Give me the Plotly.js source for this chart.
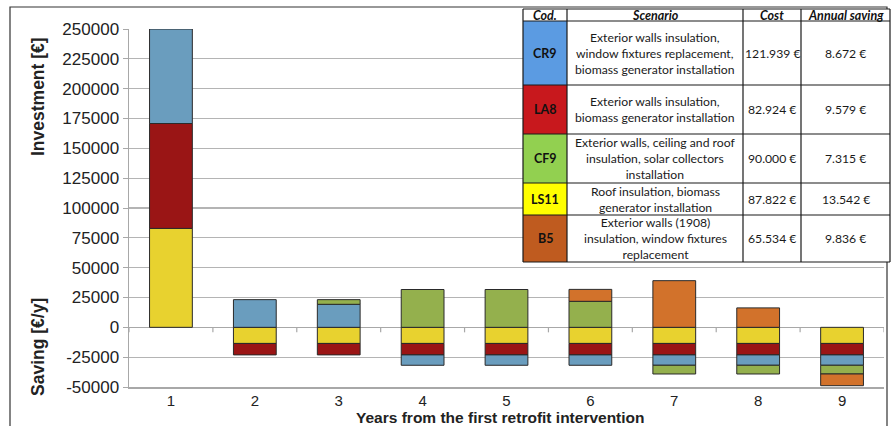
<!DOCTYPE html>
<html><head><meta charset="utf-8">
<script src="https://cdn.plot.ly/plotly-3.0.1.min.js"></script>
<style>html,body{margin:0;padding:0;background:#fff;}#chart{width:891px;height:426px;}</style>
</head><body><div id="chart"></div>
<script>
// ---- data ----
const years = [1, 2, 3, 4, 5, 6, 7, 8, 9];
const seriesNames = ["LS11", "LA8", "CR9", "CF9", "B5"];
const LS11 = [82900, -13500, -13500, -13500, -13500, -13500, -13500, -13500, -13500];
const LA8  = [87900, -9600, -9600, -9600, -9600, -9600, -9600, -9600, -9600];
const CR9  = [79200, 23200, 19300, -8700, -8700, -8700, -8700, -8700, -8700];
const CF9  = [null, null, 3900, 31700, 31700, 21800, -7300, -7300, -7300];
const B5   = [null, null, null, null, null, 10000, 39100, 16300, -9800];
const yTickVals = [-50000, -25000, 0, 25000, 50000, 75000, 100000, 125000, 150000, 175000, 200000, 225000, 250000];
const xTitle = "Years from the first retrofit intervention";

// table content
const tableHeader = ["Cod.", "Scenario", "Cost", "Annual saving"];
const tableCodes = ["CR9", "LA8", "CF9", "LS11", "B5"];
const tableScenarios = [
  "Exterior walls insulation,<br>window fixtures replacement,<br>biomass generator installation",
  "Exterior walls insulation,<br>biomass generator installation",
  "Exterior walls, ceiling and roof<br>insulation, solar collectors<br>installation",
  "Roof insulation, biomass<br>generator installation",
  "Exterior walls (1908)<br>insulation, window fixtures<br>replacement"
];
const tableCosts = ["121.939 €", "82.924 €", "90.000 €", "87.822 €", "65.534 €"];
const tableSavings = ["8.672 €", "9.579 €", "7.315 €", "13.542 €", "9.836 €"];

// ---- styling ----
const barColors = {LS11: "#E8D22F", LA8: "#9A1515", CR9: "#6A9DBE", CF9: "#94B04D", B5: "#D2722B"};
const tableCodeColors = {CR9: "#5B9BE2", LA8: "#C8181D", CF9: "#92D050", LS11: "#FFFF00", B5: "#BF5B1F"};
const seriesData = {LS11, LA8, CR9, CF9, B5};

const W = 891, H = 426;
const M = {l: 129, r: 7, t: 29, b: 39};
const PW = W - M.l - M.r, PH = H - M.t - M.b;
const px = x => (x - M.l) / PW;
const py = y => (H - M.b - y) / PH;

const traces = seriesNames.map(n => ({
  type: "bar", name: n, x: years, y: seriesData[n], width: 0.51,
  marker: {color: barColors[n], line: {color: "#2a2a2a", width: 1}},
  hoverinfo: "skip"
}));

const shapes = [];
const annotations = [];

// small tick marks on the zero line between categories
const bounds = [years[0] - 0.5].concat(years.map(v => v + 0.5));
bounds.forEach(b => shapes.push({type: "line", xref: "x", yref: "y", ysizemode: "pixel", yanchor: 0,
  x0: b, x1: b, y0: 0, y1: -5, line: {color: "#A8A8A8", width: 1.2}, layer: "below"}));

// outer frame
shapes.push({type: "rect", xref: "paper", yref: "paper", x0: px(10), x1: px(887), y0: py(7), y1: py(440),
  line: {color: "#333", width: 1.2}, fillcolor: "rgba(0,0,0,0)"});

// table
const colEdges = [523, 567, 743, 801, 890];
const rowEdges = [9, 21, 85, 134, 183, 215, 262];
shapes.push({type: "rect", xref: "paper", yref: "paper", x0: px(colEdges[0]), x1: px(colEdges[4]),
  y0: py(rowEdges[0]), y1: py(rowEdges[6]), fillcolor: "#fff", line: {width: 0}});
tableCodes.forEach((c, i) => {
  shapes.push({type: "rect", xref: "paper", yref: "paper", x0: px(colEdges[0]), x1: px(colEdges[1]),
    y0: py(rowEdges[i + 1]), y1: py(rowEdges[i + 2]), fillcolor: tableCodeColors[c], line: {width: 0}});
});
rowEdges.forEach(r => shapes.push({type: "line", xref: "paper", yref: "paper", x0: px(colEdges[0]), x1: px(colEdges[4]),
  y0: py(r), y1: py(r), line: {color: "#1a1a1a", width: 1.2}}));
colEdges.forEach(c => shapes.push({type: "line", xref: "paper", yref: "paper", x0: px(c), x1: px(c),
  y0: py(rowEdges[0]), y1: py(rowEdges[6]), line: {color: "#1a1a1a", width: 1.2}}));

const tFont = {family: "Lato, 'Open Sans', sans-serif", size: 12.2, color: "#1a1a1a"};
function cell(text, ci, ri, font) {
  annotations.push({xref: "paper", yref: "paper", showarrow: false,
    x: px((colEdges[ci] + colEdges[ci + 1]) / 2), y: py((rowEdges[ri] + rowEdges[ri + 1]) / 2),
    xanchor: "center", yanchor: "middle", text: text, font: font, align: "center"});
}
tableHeader.forEach((h, ci) => cell("<b><i>" + h + "</i></b>", ci, 0, Object.assign({}, tFont, {size: 12.5, color: "#111"})));
tableCodes.forEach((c, i) => {
  cell("<b>" + c + "</b>", 0, i + 1, Object.assign({}, tFont, {size: 12.5, color: "#111"}));
  cell(tableScenarios[i], 1, i + 1, tFont);
  cell(tableCosts[i], 2, i + 1, tFont);
  cell(tableSavings[i], 3, i + 1, tFont);
});

// axis titles
const axFont = {family: "'Liberation Sans', Arial, sans-serif", size: 17.5, color: "#222"};
annotations.push({xref: "paper", yref: "paper", x: px(38), y: py(97), textangle: -90, showarrow: false,
  text: "<b>Investment [€]</b>", font: axFont, xanchor: "center", yanchor: "middle"});
annotations.push({xref: "paper", yref: "paper", x: px(38), y: py(347), textangle: -90, showarrow: false,
  text: "<b>Saving [€/y]</b>", font: axFont, xanchor: "center", yanchor: "middle"});
annotations.push({xref: "paper", yref: "paper", x: px(500), y: py(417), showarrow: false,
  text: "<b>" + xTitle + "</b>", font: {family: "'Liberation Sans', Arial, sans-serif", size: 15.5, color: "#222"},
  xanchor: "center", yanchor: "middle"});

const layout = {
  width: W, height: H, margin: M, barmode: "relative", showlegend: false,
  paper_bgcolor: "#fff", plot_bgcolor: "#fff",
  font: {family: "'Liberation Sans', Arial, sans-serif", color: "#222"},
  xaxis: {range: [0.5, 9.5], tickvals: years, ticktext: years.map(String), ticks: "", showgrid: false,
    zeroline: false, showline: true, linecolor: "#A8A8A8", linewidth: 1.5,
    tickfont: {size: 15, color: "#222"}, ticklabelstandoff: -1},
  yaxis: {range: [-50000, 250000], tickvals: yTickVals, ticktext: yTickVals.map(String),
    ticks: "outside", ticklen: 5, tickcolor: "#A8A8A8", showgrid: true, gridcolor: "#B4B4B4", gridwidth: 1.2,
    zeroline: true, zerolinecolor: "#A8A8A8", zerolinewidth: 1.5,
    showline: true, linecolor: "#A8A8A8", linewidth: 1.5, tickfont: {size: 17, color: "#222"}},
  shapes: shapes, annotations: annotations
};

Plotly.newPlot("chart", traces, layout, {displayModeBar: false, staticPlot: true});
</script></body></html>
